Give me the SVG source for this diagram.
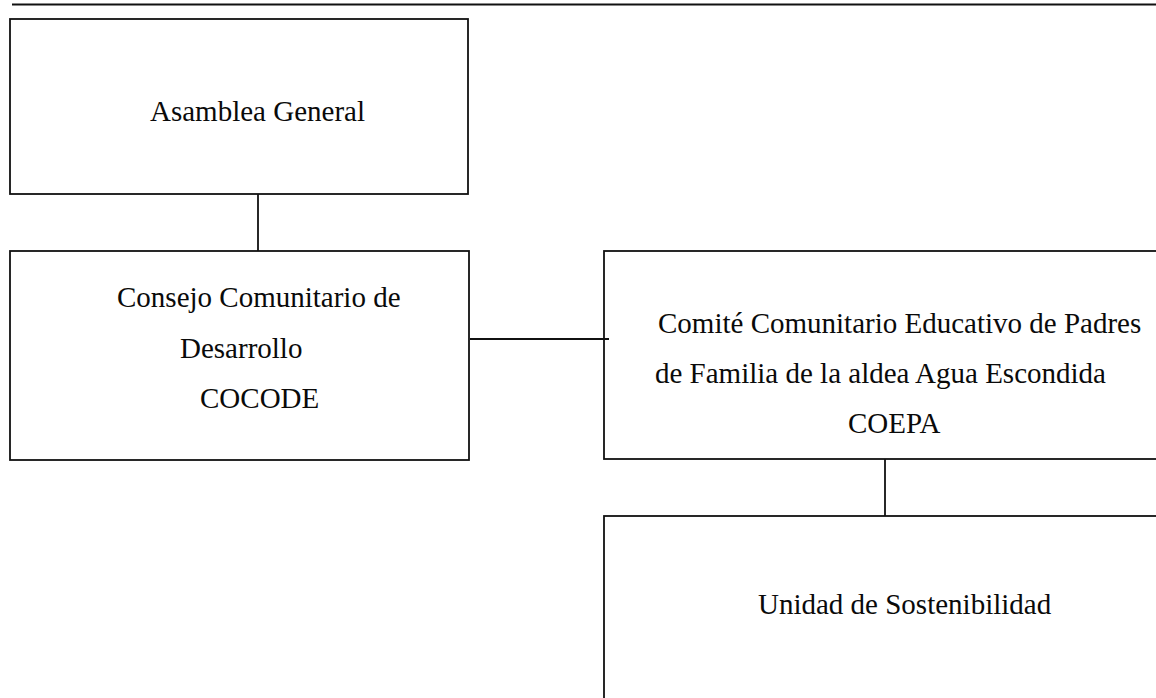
<svg xmlns="http://www.w3.org/2000/svg" width="1156" height="698" viewBox="0 0 1156 698">
<style>
.box{fill:#fff;stroke:#111;stroke-width:1.8}
.con{stroke:#111;stroke-width:1.8;fill:none}
.t{font-family:"Liberation Serif","Times New Roman",serif;font-size:29px;fill:#0a0a0a}
</style>
<rect width="1156" height="698" fill="#fff"/>
<line x1="12" y1="4.5" x2="1156" y2="4.5" class="con" stroke-width="2"/>
<g id="asamblea">
<rect class="box" x="10" y="19" width="458" height="175"/>
<text class="t" x="150" y="121">Asamblea General</text>
</g>
<g id="cocode">
<rect class="box" x="10" y="251" width="459" height="209"/>
<text class="t" x="117" y="307">Consejo Comunitario de</text>
<text class="t" x="180" y="358">Desarrollo</text>
<text class="t" x="200" y="408">COCODE</text>
</g>
<g id="coepa">
<rect class="box" x="604" y="251" width="600" height="208"/>
<text class="t" x="658" y="333">Comité Comunitario Educativo de Padres</text>
<text class="t" x="655" y="383">de Familia de la aldea Agua Escondida</text>
<text class="t" x="848" y="433">COEPA</text>
</g>
<g id="unidad">
<rect class="box" x="604" y="516" width="600" height="260"/>
<text class="t" x="758" y="614">Unidad de Sostenibilidad</text>
</g>
<g id="connectors">
<line class="con" x1="258" y1="194" x2="258" y2="251"/>
<line class="con" x1="470" y1="339" x2="609" y2="339"/>
<line class="con" x1="885" y1="459" x2="885" y2="516"/>
</g>
</svg>
